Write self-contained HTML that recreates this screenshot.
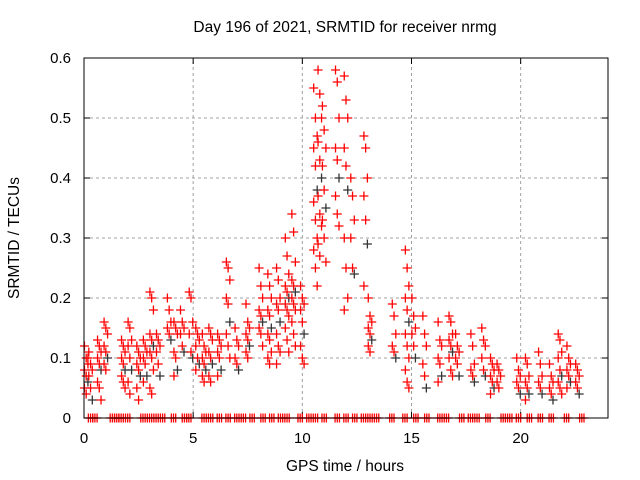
<!DOCTYPE html>
<html><head><meta charset="utf-8"><style>
body{margin:0;background:#fff}
svg{display:block;font-family:"Liberation Sans",sans-serif}
</style></head><body>
<svg id="chart" width="640" height="480" xmlns="http://www.w3.org/2000/svg">
<text x="345" y="32" text-anchor="middle" font-size="15.5">Day 196 of 2021, SRMTID for receiver nrmg</text>
<text x="345" y="471" text-anchor="middle" font-size="15.5">GPS time / hours</text>
<text transform="translate(19,238) rotate(-90)" text-anchor="middle" font-size="15.5">SRMTID / TECUs</text>
<g id="grid"></g>
<g id="ticks"></g>
<g id="marks"></g>
<rect x="84" y="58" width="524" height="360" fill="none" stroke="#000" stroke-width="1"/>
</svg>
<script>
const xTicks=[0,5,10,15,20];
const yTicks=[0,0.1,0.2,0.3,0.4,0.5,0.6];
const yTickLabels=["0","0.1","0.2","0.3","0.4","0.5","0.6"];
const streakTimes=[0.1,0.3,0.7,1.0,1.8,2.1,2.5,2.8,3.1,3.4,3.9,4.2,4.5,4.9,5.2,5.5,5.8,6.2,6.6,7.0,7.5,8.1,8.5,8.9,9.3,9.6,10.0,10.6,10.8,11.0,11.6,12.0,12.3,12.9,13.1,14.2,14.8,15.1,15.6,16.3,16.8,17.1,17.8,18.3,18.7,19.0,19.9,20.3,20.9,21.4,21.8,22.2,22.6];
const streakValues=[
[0.12,0.1,0.09,0.08,0.07,0.06,0.05,0.04,0.1],
[0.11,0.09,0.08,0.07,0.05,0.03],
[0.13,0.12,0.11,0.1,0.09,0.08,0.06,0.05,0.03],
[0.16,0.15,0.14,0.12,0.11,0.1,0.09,0.08],
[0.13,0.12,0.11,0.1,0.09,0.08,0.07,0.06,0.05],
[0.16,0.15,0.13,0.12,0.1,0.08,0.06,0.04],
[0.12,0.11,0.1,0.09,0.08,0.07,0.05,0.03],
[0.13,0.12,0.11,0.1,0.09,0.07,0.06],
[0.21,0.2,0.18,0.14,0.13,0.12,0.11,0.1,0.08,0.05,0.04],
[0.14,0.13,0.12,0.11,0.09,0.07],
[0.2,0.18,0.16,0.15,0.14,0.13],
[0.16,0.15,0.14,0.11,0.1,0.08,0.07],
[0.18,0.16,0.15,0.14,0.12,0.11],
[0.21,0.2,0.16,0.14,0.11,0.1],
[0.15,0.14,0.13,0.12,0.1,0.09,0.08],
[0.14,0.12,0.11,0.1,0.09,0.08,0.07,0.06],
[0.15,0.14,0.13,0.11,0.1,0.09,0.07,0.06],
[0.14,0.13,0.12,0.11,0.1,0.08,0.07],
[0.26,0.25,0.23,0.2,0.19,0.16,0.14,0.12,0.1],
[0.15,0.13,0.12,0.1,0.09,0.08],
[0.19,0.16,0.15,0.14,0.13,0.12,0.11,0.1],
[0.25,0.22,0.2,0.18,0.17,0.16,0.15,0.14,0.12],
[0.24,0.22,0.2,0.18,0.17,0.15,0.14,0.13,0.11,0.1,0.09],
[0.25,0.23,0.2,0.19,0.18,0.16,0.14,0.12,0.11,0.09],
[0.3,0.27,0.24,0.22,0.21,0.2,0.19,0.18,0.17,0.15,0.13,0.11],
[0.34,0.31,0.26,0.23,0.22,0.21,0.2,0.19,0.18,0.16,0.14,0.12],
[0.22,0.2,0.19,0.18,0.16,0.14,0.12,0.1,0.09],
[0.55,0.5,0.47,0.45,0.42,0.38,0.36,0.33,0.3,0.28,0.25,0.22],
[0.58,0.54,0.5,0.46,0.43,0.4,0.37,0.34,0.32,0.29,0.27],
[0.52,0.48,0.45,0.42,0.38,0.35,0.33,0.3,0.26],
[0.58,0.56,0.5,0.45,0.43,0.4,0.37,0.34,0.32],
[0.57,0.53,0.5,0.45,0.42,0.38,0.3,0.25,0.2,0.18],
[0.4,0.37,0.33,0.3,0.25,0.24],
[0.47,0.45,0.4,0.37,0.33,0.29,0.22],
[0.2,0.17,0.16,0.15,0.14,0.13,0.12,0.11],
[0.19,0.17,0.14,0.12,0.11,0.1],
[0.28,0.25,0.22,0.2,0.18,0.16,0.14,0.12,0.1,0.08,0.06,0.05],
[0.2,0.17,0.15,0.14,0.12,0.1],
[0.17,0.14,0.12,0.09,0.07,0.05],
[0.16,0.13,0.12,0.1,0.09,0.07,0.06],
[0.17,0.16,0.14,0.13,0.12,0.11,0.1,0.08,0.07],
[0.14,0.12,0.11,0.1,0.09,0.07],
[0.14,0.12,0.09,0.08,0.07,0.06],
[0.15,0.13,0.12,0.1,0.08,0.07],
[0.1,0.09,0.08,0.07,0.06,0.05,0.04],
[0.09,0.08,0.07,0.06,0.05],
[0.1,0.08,0.07,0.06,0.05,0.04],
[0.1,0.09,0.07,0.06,0.05,0.04,0.03],
[0.11,0.09,0.07,0.06,0.05,0.04],
[0.09,0.07,0.06,0.05,0.04,0.03],
[0.14,0.13,0.11,0.1,0.08,0.07,0.06,0.05,0.04],
[0.12,0.1,0.09,0.08,0.07,0.06,0.05],
[0.09,0.08,0.07,0.06,0.05,0.04]];
const zeroTimes=[0.3,0.5,1.3,1.5,1.7,2.0,2.7,3.0,3.3,3.6,4.1,4.6,4.8,5.5,5.8,6.2,6.6,7.0,7.3,7.7,8.2,8.6,9.0,9.3,9.9,10.3,10.6,11.0,11.6,12.0,12.4,12.8,13.1,13.4,14.1,14.7,15.2,15.7,16.3,16.6,17.3,17.7,18.0,18.5,19.2,19.5,19.9,20.4,20.9,21.4,22.1,22.8];

const X0=84,X1=608,Y0=418,Y1=58,XMAX=24,YMAX=0.6;
const sx=t=>X0+(X1-X0)*t/XMAX;
const sy=v=>Y0-(Y0-Y1)*v/YMAX;
const NS="http://www.w3.org/2000/svg";
function mk(tag,attrs,parent){const e=document.createElementNS(NS,tag);for(const k in attrs)e.setAttribute(k,attrs[k]);parent.appendChild(e);return e;}
const grid=document.getElementById('grid'),ticks=document.getElementById('ticks'),marks=document.getElementById('marks');
xTicks.forEach(t=>{const x=sx(t);
 if(t>0){const g=mk('line',{x1:x,x2:x,y1:Y0,y2:Y1,stroke:'#a0a0a0','stroke-dasharray':'3,3'},grid);
 
 }
 mk('line',{x1:x,x2:x,y1:Y0,y2:Y0-6,stroke:'#000'},ticks);
 mk('line',{x1:x,x2:x,y1:Y1,y2:Y1+6,stroke:'#000'},ticks);
 const l=mk('text',{x:x,y:Y0+25,'text-anchor':'middle','font-size':15},ticks);l.textContent=t;
 
 });
yTicks.forEach((v,i)=>{const y=sy(v);
 if(v>0&&v<YMAX){const g=mk('line',{x1:X0,x2:X1,y1:y,y2:y,stroke:'#a0a0a0','stroke-dasharray':'3,3'},grid);
 
 }
 mk('line',{x1:X0,x2:X0+6,y1:y,y2:y,stroke:'#000'},ticks);
 mk('line',{x1:X1,x2:X1-6,y1:y,y2:y,stroke:'#000'},ticks);
 const l=mk('text',{x:X0-13,y:y+5,'text-anchor':'end','font-size':15},ticks);l.textContent=yTickLabels[i];
 
 });
function plus(t,v,color){const x=sx(t),y=sy(v);
 const p=mk('path',{d:`M${x-4.5},${y}h9M${x},${y-4.5}v9`,stroke:color,'stroke-width':1.3,fill:'none'},marks);
 
 }
streakTimes.forEach((t,i)=>streakValues[i].forEach((v,j)=>plus(t+((j%3)-1)*0.08,v,(j%11==5)?'#333':'#f00')));
zeroTimes.forEach(t=>{plus(t-0.1,0,'#f00');plus(t,0,'#f00');plus(t+0.1,0,'#f00');});
</script>
</body></html>
